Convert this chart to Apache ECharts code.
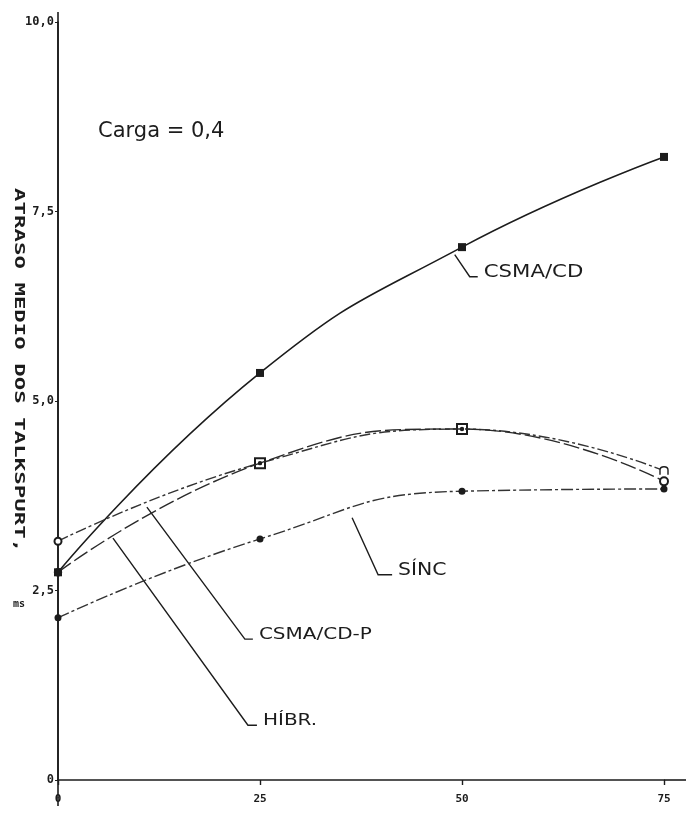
<!DOCTYPE html>
<html>
<head>
<meta charset="utf-8">
<script src="https://cdn.jsdelivr.net/npm/echarts@6/dist/echarts.min.js"></script>
<style>
html, body { margin: 0; background: #fff; }
#chart { width: 686px; height: 824px; }
</style>
</head>
<body>
<div id="chart"></div>
<script>
// valores
var xValues = [0, 25, 50, 75];
var csmaCd = [2.74, 5.37, 7.03, 8.22];
var csmaCdP = [3.15, 4.18, 4.63, 4.08];
var hibr = [2.74, 4.18, 4.63, 3.94];
var sinc = [2.14, 3.18, 3.81, 3.84];
var xTicks = [0, 25, 50, 75];
var yTicks = [0, 2.5, 5, 7.5, 10];

var INK = '#1c1c1c';
var MONO = 'DejaVu Sans Mono';
var HAND = 'DejaVu Sans';
var nMark = 'path://M0,10 L0,4 Q0,0 5,0 Q10,0 10,4 L10,10';

function pairs(ys, symbols, sizes) {
    return ys.map(function (y, i) {
        var d = { value: [xValues[i], y] };
        if (symbols) d.symbol = symbols[i];
        if (sizes) d.symbolSize = sizes[i];
        if (d.symbol === nMark) d.itemStyle = { color: '#fff', borderColor: INK, borderWidth: 1.4 };
        return d;
    });
}

function fmtY(v) {
    if (v === 0) return '0';
    return v.toFixed(1).replace('.', ',');
}

var chart = echarts.init(document.getElementById('chart'));

var option = {
    backgroundColor: '#fff',
    animation: false,
    grid: { left: 58, right: 22, top: 22, bottom: 44, outerBoundsMode: 'none' },
    xAxis: {
        type: 'value',
        min: xTicks[0],
        max: xTicks[xTicks.length - 1],
        interval: 25,
        splitLine: { show: false },
        axisLine: { lineStyle: { color: INK, width: 1.6 } },
        axisTick: { show: true, length: 5, lineStyle: { color: INK, width: 1.4 } },
        axisLabel: { color: INK, fontFamily: MONO, fontWeight: 'bold', fontSize: 11, margin: 14 }
    },
    yAxis: {
        type: 'value',
        min: yTicks[0],
        max: yTicks[yTicks.length - 1],
        interval: 2.5,
        splitLine: { show: false },
        axisLine: { lineStyle: { color: INK, width: 1.6 } },
        axisTick: { show: true, length: 3, lineStyle: { color: INK } },
        axisLabel: {
            color: INK, fontFamily: MONO, fontWeight: 'bold', fontSize: 12, margin: 4,
            formatter: fmtY
        }
    },
    series: [
        {
            name: 'CSMA/CD', type: 'line', smooth: 0.5, showAllSymbol: true,
            symbol: 'rect', symbolSize: 8,
            lineStyle: { color: INK, width: 1.6 },
            itemStyle: { color: INK },
            data: pairs(csmaCd)
        },
        {
            name: 'SÍNC', type: 'line', smooth: 0.5, showAllSymbol: true,
            symbol: 'circle', symbolSize: 7,
            lineStyle: { color: '#333', width: 1.4, type: [12, 3, 3, 3] },
            itemStyle: { color: INK },
            data: pairs(sinc)
        },
        {
            name: 'CSMA/CD-P', type: 'line', smooth: 0.5, showAllSymbol: true, z: 3,
            lineStyle: { color: '#333', width: 1.4, type: [11, 3, 3, 3] },
            itemStyle: { color: INK, borderWidth: 1.4 },
            data: pairs(csmaCdP, ['emptyCircle', 'emptyRect', 'emptyRect', nMark], [7, 10, 10, 8])
        },
        {
            name: 'HÍBR.', type: 'line', smooth: 0.5, showAllSymbol: true, z: 4,
            lineStyle: { color: '#2a2a2a', width: 1.4, type: [16, 4] },
            itemStyle: { color: INK, borderColor: INK, borderWidth: 1.4 },
            data: pairs(hibr, ['circle', 'circle', 'circle', 'emptyCircle'], [7, 3, 3, 8])
        }
    ]
};
chart.setOption(option);

// anotacoes: ponto na curva (dados) + deslocamento do traco em pixels
var notes = [
    { text: 'CSMA/CD', at: [49.1, 6.93], bend: [15, 22], hook: 8, size: 17, sx: 1.25 },
    { text: 'SÍNC', at: [36.4, 3.46], bend: [26, 57], hook: 14, size: 17, sx: 1.2 },
    { text: 'CSMA/CD-P', at: [11.0, 3.60], bend: [98, 132], hook: 8, size: 16, sx: 1.25 },
    { text: 'HÍBR.', at: [6.8, 3.19], bend: [135, 187], hook: 9, size: 16, sx: 1.25 }
];

var graphics = [];
notes.forEach(function (n) {
    var p = chart.convertToPixel({ gridIndex: 0 }, n.at);
    var e = [p[0] + n.bend[0], p[1] + n.bend[1]];
    var h = [e[0] + n.hook, e[1]];
    graphics.push({
        type: 'polyline',
        shape: { points: [p, e, h] },
        style: { stroke: INK, lineWidth: 1.4, fill: null }
    });
    graphics.push({
        type: 'text', x: h[0] + 6, y: h[1] - 4, scaleX: n.sx,
        style: {
            text: n.text, fill: INK, font: n.size + 'px "' + HAND + '"',
            textAlign: 'left', textVerticalAlign: 'middle'
        }
    });
});

// prolongamentos dos eixos
var o = chart.convertToPixel({ gridIndex: 0 }, [0, 0]);
var top10 = chart.convertToPixel({ gridIndex: 0 }, [0, 10]);
var end75 = chart.convertToPixel({ gridIndex: 0 }, [75, 0]);
graphics.push({
    type: 'line', shape: { x1: o[0], y1: top10[1] - 10, x2: o[0], y2: o[1] + 26 },
    style: { stroke: INK, lineWidth: 1.6 }
});
graphics.push({
    type: 'line', shape: { x1: end75[0], y1: o[1], x2: 686, y2: o[1] },
    style: { stroke: INK, lineWidth: 1.6 }
});

graphics.push({
    type: 'text', x: 98, y: 132,
    style: { text: 'Carga = 0,4', fill: INK, font: '21px "' + HAND + '"', textVerticalAlign: 'middle' }
});
graphics.push({
    type: 'text', x: 19, y: 188, rotation: -Math.PI / 2, scaleX: 1.6,
    style: {
        text: 'ATRASO MEDIO DOS TALKSPURT,', fill: INK,
        font: 'bold 14px "' + MONO + '"', textAlign: 'left', textVerticalAlign: 'middle'
    }
});
graphics.push({
    type: 'text', x: 13, y: 604,
    style: { text: 'ms', fill: INK, font: 'bold 10px "' + MONO + '"', textVerticalAlign: 'middle' }
});

chart.setOption({ graphic: graphics });
</script>
</body>
</html>
